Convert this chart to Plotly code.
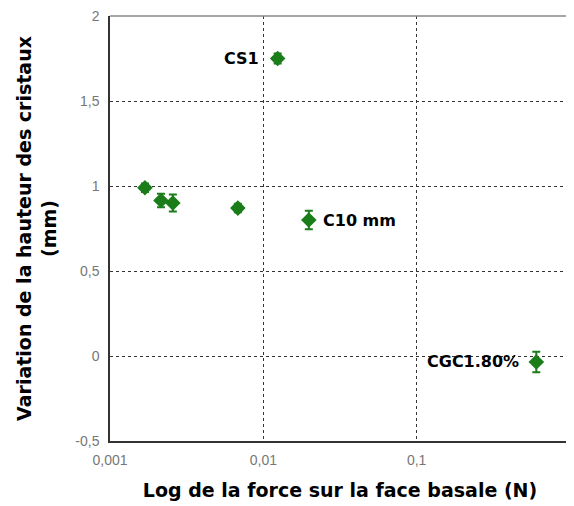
import math
import plotly.graph_objects as go

force = [0.00169, 0.00215, 0.00257, 0.00682, 0.0124, 0.0198, 0.603]
variation = [0.99, 0.915, 0.90, 0.87, 1.75, 0.80, -0.035]
err = [0.025, 0.04, 0.05, 0.025, 0.03, 0.055, 0.06]
labels = ["", "", "", "", "CS1", "C10 mm", "CGC1.80%"]
label_shift = [0, 0, 0, 0, -17, 12, -15]

x_ticks = [0.001, 0.01, 0.1, 1]
x_ticktext = ["0,001", "0,01", "0,1", "1"]
y_ticks = [-0.5, 0, 0.5, 1, 1.5, 2]
y_ticktext = ["-0,5", "0", "0,5", "1", "1,5", "2"]

green = "#1a7d1a"
bold_font = "DejaVu Sans"

fig = go.Figure()
fig.add_trace(go.Scatter(
    x=force, y=variation, mode="markers",
    marker=dict(symbol="diamond", size=12, color=green),
    error_y=dict(type="data", array=err, color=green, thickness=2, width=4),
))

# labels next to the named points (log axis -> annotation x in log10 units)
for xv, yv, lab, sh in zip(force, variation, labels, label_shift):
    if not lab:
        continue
    fig.add_annotation(x=math.log10(xv), y=yv, xref="x", yref="y", text="<b>%s</b>" % lab,
                       showarrow=False, xanchor="left" if sh > 0 else "right",
                       xshift=sh,
                       font=dict(family=bold_font, size=16, color="black"))

# lighter top / right frame
fig.add_shape(type="line", xref="paper", yref="paper", x0=0, x1=1, y0=1, y1=1,
              line=dict(color="#888", width=1.5))
fig.add_shape(type="line", xref="paper", yref="paper", x0=1, x1=1, y0=0, y1=1,
              line=dict(color="#888", width=1.5))

fig.update_xaxes(type="log", range=[-3, 0], tickvals=x_ticks, ticktext=x_ticktext,
                 showgrid=True, gridcolor="#333", griddash="dot", gridwidth=1,
                 showline=True, linecolor="#333", linewidth=1.5,
                 ticks="", tickfont=dict(size=14, color="#777"), automargin=False,
                 ticklabelstandoff=5, ticklabeloverflow="allow",
                 title=dict(text="<b>Log de la force sur la face basale (N)</b>",
                            font=dict(family=bold_font, size=19, color="black"), standoff=17),
                 zeroline=False)
fig.update_yaxes(range=[-0.5, 2], tickvals=y_ticks, ticktext=y_ticktext,
                 showgrid=True, gridcolor="#333", griddash="dot", gridwidth=1,
                 showline=True, linecolor="#333", linewidth=1.5,
                 ticks="", tickfont=dict(size=14, color="#777"), automargin=False,
                 ticklabelstandoff=6, ticklabeloverflow="allow",
                 title=dict(text="<b>Variation de la hauteur des cristaux<br>(mm)</b>",
                            font=dict(family=bold_font, size=19, color="black"), standoff=14),
                 zeroline=False)

# the page body adds an 8px offset, so the figure is 8px smaller to avoid scrollbars
fig.update_layout(
    width=566, height=498,
    margin=dict(l=102, r=4, t=8, b=65),
    plot_bgcolor="white", paper_bgcolor="white",
    font=dict(family="Liberation Sans"),
    showlegend=False,
)

fig.write_html("out.html")
